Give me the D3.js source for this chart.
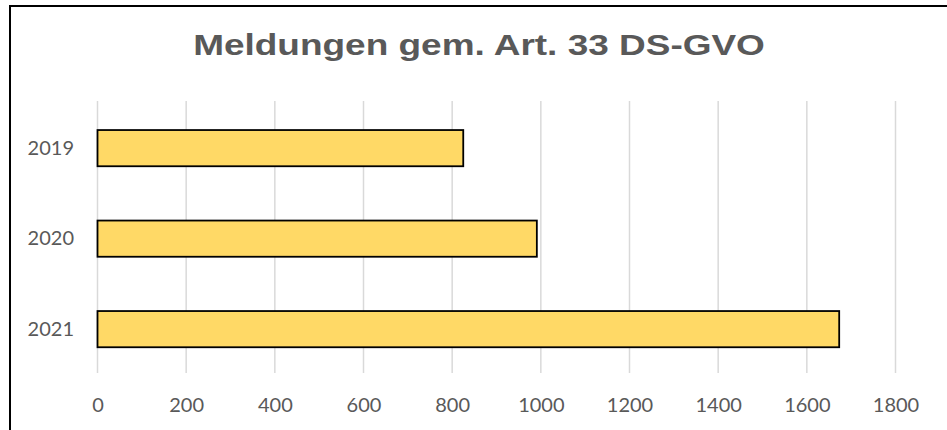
<!DOCTYPE html>
<html>
<head>
<meta charset="utf-8">
<script src="https://cdn.jsdelivr.net/npm/d3@7"></script>
<style>
  html, body { margin: 0; padding: 0; background: #fff; overflow: hidden; }
</style>
</head>
<body>
<svg id="chart" width="947" height="430"></svg>
<script>
const title = "Meldungen gem. Art. 33 DS-GVO";
const categories = ["2019", "2020", "2021"];
const values = [825, 991, 1673];
const xTicks = [0, 200, 400, 600, 800, 1000, 1200, 1400, 1600, 1800];

const svg = d3.select("#chart");

// frame
svg.append("rect")
  .attr("x", 10).attr("y", 6)
  .attr("width", 1000).attr("height", 1000)
  .attr("fill", "#fff")
  .attr("stroke", "#000")
  .attr("stroke-width", 2);

// title (horizontally stretched to match the original's wide title)
const titleText = svg.append("text")
  .attr("text-anchor", "middle")
  .attr("font-family", "Liberation Sans, Arial, sans-serif")
  .attr("font-weight", "bold")
  .attr("font-size", 29)
  .attr("fill", "#595959")
  .text(title);
const tw = titleText.node().getComputedTextLength();
titleText.attr("transform", `translate(479,55) scale(${572 / tw},1)`);

const x = d3.scaleLinear().domain([0, 1800]).range([97.5, 895.5]);
const y = d3.scaleBand().domain(categories).range([102.9, 374.4])
  .paddingInner(0.6).paddingOuter(0.3);

// gridlines
svg.append("g").selectAll("line").data(xTicks).join("line")
  .attr("x1", d => x(d)).attr("x2", d => x(d))
  .attr("y1", 101).attr("y2", 373)
  .attr("stroke", "#d9d9d9")
  .attr("stroke-width", 1.5);

// x axis labels
const xAxis = d3.axisBottom(x).tickValues(xTicks).tickFormat(d3.format("d"))
  .tickSize(0).tickPadding(0);
const gx = svg.append("g").attr("transform", "translate(0,397)").call(xAxis);
gx.select(".domain").remove();
gx.selectAll("text")
  .attr("font-family", "Lato, sans-serif")
  .attr("font-size", 20)
  .attr("fill", "#595959")
  .attr("dy", "0.75em");

// y axis labels
const yAxis = d3.axisLeft(y).tickSize(0).tickPadding(23.5);
const gy = svg.append("g").attr("transform", `translate(${x(0)},0)`).call(yAxis);
gy.select(".domain").remove();
gy.selectAll("text")
  .attr("font-family", "Lato, sans-serif")
  .attr("font-size", 20)
  .attr("fill", "#595959");

// bars
svg.append("g").selectAll("rect").data(categories).join("rect")
  .attr("x", x(0))
  .attr("y", d => y(d))
  .attr("width", (d, i) => x(values[i]) - x(0))
  .attr("height", y.bandwidth())
  .attr("fill", "#FFD966")
  .attr("stroke", "#000")
  .attr("stroke-width", 1.8);
</script>
</body>
</html>
